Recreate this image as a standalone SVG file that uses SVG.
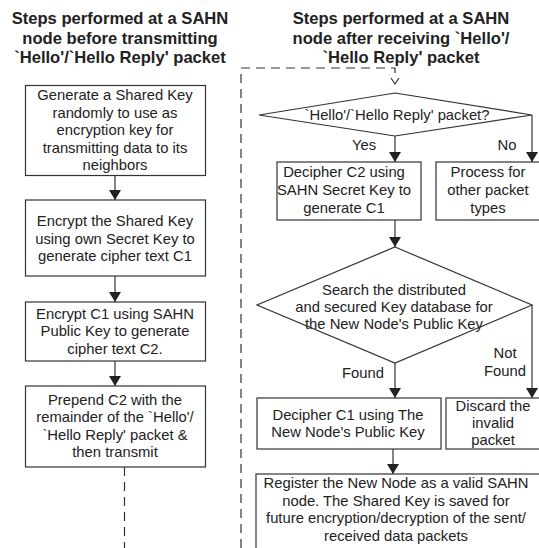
<svg xmlns="http://www.w3.org/2000/svg" width="539" height="548" viewBox="0 0 539 548">
<defs>
<style>
.t{font-family:"Liberation Sans",Arial,sans-serif;font-size:14.8px;fill:#222;text-anchor:middle}
.h{font-family:"Liberation Sans",Arial,sans-serif;font-size:16.6px;font-weight:bold;fill:#222;text-anchor:middle}
.b{fill:#fff;stroke:#333;stroke-width:1.2}
.c{fill:none;stroke:#333;stroke-width:1.2}
.d{fill:none;stroke:#333;stroke-width:1.2;stroke-dasharray:9,6}
</style>
<marker id="ah" markerWidth="10" markerHeight="12" refX="10" refY="6" orient="auto" markerUnits="userSpaceOnUse">
<path d="M0,0 L10,6 L0,12 z" fill="#222"/>
</marker>
</defs>
<rect width="539" height="548" fill="#fff"/>
<g id="titles">
<text class="h" x="120" y="24">Steps performed at a SAHN</text>
<text class="h" x="120" y="44">node before transmitting</text>
<text class="h" x="120" y="63">`Hello'/`Hello Reply' packet</text>
<text class="h" x="401" y="24">Steps performed at a SAHN</text>
<text class="h" x="401" y="44">node after receiving `Hello'/</text>
<text class="h" x="401" y="63">`Hello Reply' packet</text>
</g>
<g id="connectors">
<line class="c" x1="115" y1="175" x2="115" y2="200" marker-end="url(#ah)"/>
<line class="c" x1="115" y1="276" x2="115" y2="302" marker-end="url(#ah)"/>
<line class="c" x1="115" y1="361" x2="115" y2="386" marker-end="url(#ah)"/>
<line class="d" x1="124.5" y1="467" x2="124.5" y2="548"/>
<polyline class="d" points="241,548 241,68 395,68 395,74"/>
<polyline class="c" points="391,78 395,84 399,78"/>
<line class="c" x1="395" y1="136" x2="395" y2="162" marker-end="url(#ah)"/>
<polyline class="c" points="532,115 532,162" marker-end="url(#ah)"/>
<line class="c" x1="395" y1="220" x2="395" y2="247" marker-end="url(#ah)"/>
<line class="c" x1="395" y1="363" x2="395" y2="398" marker-end="url(#ah)"/>
<polyline class="c" points="532,305 532,398" marker-end="url(#ah)"/>
<line class="c" x1="393" y1="449" x2="393" y2="474" marker-end="url(#ah)"/>
<text class="t" x="364" y="150">Yes</text>
<text class="t" x="507" y="150">No</text>
<text class="t" x="363" y="378">Found</text>
<text class="t" x="505" y="358">Not</text>
<text class="t" x="505" y="376">Found</text>
</g>
<g id="n1">
<rect class="b" x="25.5" y="85.5" width="180" height="90"/>
<text class="t" x="115" y="100">Generate a Shared Key</text>
<text class="t" x="115" y="117.5">randomly to use as</text>
<text class="t" x="115" y="135">encryption key for</text>
<text class="t" x="115" y="152.5">transmitting data to its</text>
<text class="t" x="115" y="170">neighbors</text>
</g>
<g id="n2">
<rect class="b" x="25.5" y="200" width="180" height="76"/>
<text class="t" x="115" y="226">Encrypt the Shared Key</text>
<text class="t" x="115" y="243.5">using own Secret Key to</text>
<text class="t" x="115" y="261">generate cipher text C1</text>
</g>
<g id="n3">
<rect class="b" x="25.5" y="302" width="180" height="59"/>
<text class="t" x="115" y="318.5">Encrypt C1 using SAHN</text>
<text class="t" x="115" y="336">Public Key to generate</text>
<text class="t" x="115" y="353.5">cipher text C2.</text>
</g>
<g id="n4">
<rect class="b" x="25.5" y="386" width="180" height="81"/>
<text class="t" x="115" y="404.5">Prepend C2 with the</text>
<text class="t" x="115" y="422">remainder of the `Hello'/</text>
<text class="t" x="115" y="439.5">`Hello Reply' packet &amp;</text>
<text class="t" x="115" y="457">then transmit</text>
</g>
<g id="d1">
<polygon class="b" points="395,93 532,115 395,136 259,115"/>
<text class="t" x="397" y="120">`Hello'/`Hello Reply' packet?</text>
</g>
<g id="n5">
<rect class="b" x="277" y="162" width="144" height="58"/>
<text class="t" x="344" y="177">Decipher C2 using</text>
<text class="t" x="344" y="195">SAHN Secret Key to</text>
<text class="t" x="344" y="213">generate C1</text>
</g>
<g id="n6">
<rect class="b" x="436" y="162" width="106" height="58"/>
<text class="t" x="488" y="177">Process for</text>
<text class="t" x="488" y="195">other packet</text>
<text class="t" x="488" y="213">types</text>
</g>
<g id="d2">
<polygon class="b" points="395,247 532,305 395,363 257,305"/>
<text class="t" x="394" y="295">Search the distributed</text>
<text class="t" x="394" y="312">and secured Key database for</text>
<text class="t" x="394" y="329">the New Node's Public Key</text>
</g>
<g id="n7">
<rect class="b" x="257" y="398" width="184" height="51"/>
<text class="t" x="348" y="420">Decipher C1 using The</text>
<text class="t" x="348" y="437">New Node's Public Key</text>
</g>
<g id="n8">
<rect class="b" x="446" y="398" width="96" height="51"/>
<text class="t" x="493" y="411">Discard the</text>
<text class="t" x="493" y="428">invalid</text>
<text class="t" x="493" y="445">packet</text>
</g>
<g id="n9">
<rect class="b" x="256" y="474" width="290" height="80"/>
<text class="t" x="396" y="488">Register the New Node as a valid SAHN</text>
<text class="t" x="396" y="505.5">node. The Shared Key is saved for</text>
<text class="t" x="396" y="523">future encryption/decryption of the sent/</text>
<text class="t" x="396" y="540.5">received data packets</text>
</g>
</svg>
